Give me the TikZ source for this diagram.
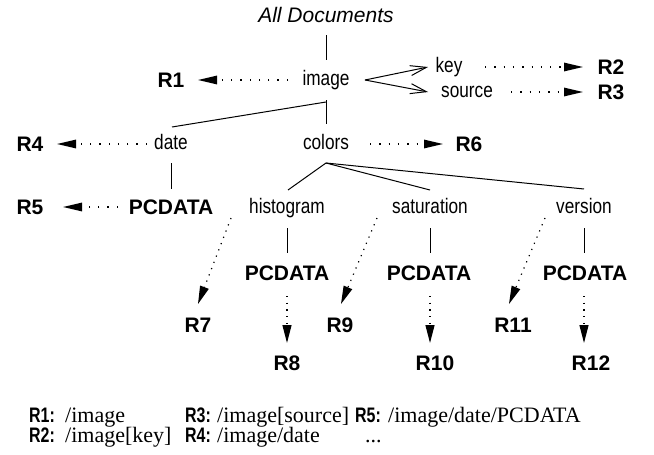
\documentclass[tikz,border=0pt]{standalone}
\usepackage{fontspec}
\setmainfont{Liberation Sans}
\newfontfamily\lblfont[FakeStretch=0.82]{Liberation Sans}
\newfontfamily\legfont[FakeStretch=0.76]{Liberation Sans}
\newfontfamily\legserif{Liberation Serif}
\usetikzlibrary{arrows.meta,calc}
\begin{document}
\begin{tikzpicture}[x=1pt,y=-1pt,
 lbl/.style={inner sep=0pt, font=\lblfont\fontsize{21}{25}\selectfont, text height=16pt, text depth=4.5pt},
 rlbl/.style={inner sep=0pt, font=\bfseries\fontsize{21}{25}\selectfont, text height=15pt, text depth=0pt},
 toplbl/.style={inner sep=0pt, font=\itshape\fontsize{21}{25}\selectfont, text height=16pt, text depth=0pt},
 legr/.style={inner sep=0pt, anchor=base west, font=\legfont\bfseries\fontsize{21}{25}\selectfont},
 legp/.style={inner sep=0pt, anchor=base west, font=\legserif\fontsize{22}{26}\selectfont},
 tree/.style={line width=1pt},
 ptr/.style={line width=1.3pt, dash pattern=on 1.3pt off 8pt, -{Triangle[length=19pt,width=8.5pt]}},
 vptr/.style={line width=1.2pt, dash pattern=on 1.2pt off 5.5pt, -{Triangle[length=18pt,width=9pt]}},
 openarr/.style={line width=1pt, -{Straight Barb[length=16pt,width=10pt]}}
]
\path[fill=white,use as bounding box] (0,0) rectangle (654,455);

% tree nodes
\node[toplbl] (alldoc) at (326,15) {All Documents};
\node[lbl] (image) at (326,80) {image};
\node[rlbl] (r1) at (171,80) {R1};
\node[lbl] (key) at (449,67) {key};
\node[lbl] (source) at (467,92) {source};
\node[rlbl] (r2) at (611,67) {R2};
\node[rlbl] (r3) at (611,92) {R3};
\node[lbl] (date) at (171,144) {date};
\node[lbl] (colors) at (326,144) {colors};
\node[rlbl] (r4) at (30,144) {R4};
\node[rlbl] (r6) at (469,144) {R6};
\node[rlbl] (pc0) at (171,207) {PCDATA};
\node[rlbl] (r5) at (30,207) {R5};
\node[lbl] (hist) at (287,208) {histogram};
\node[lbl] (sat) at (430,208) {saturation};
\node[lbl] (ver) at (584,208) {version};
\node[rlbl] (pc1) at (287,273) {PCDATA};
\node[rlbl] (pc2) at (429,273) {PCDATA};
\node[rlbl] (pc3) at (585,273) {PCDATA};
\node[rlbl] (r7) at (198,325) {R7};
\node[rlbl] (r9) at (340,325) {R9};
\node[rlbl] (r11) at (513,325) {R11};
\node[rlbl] (r8) at (287,363) {R8};
\node[rlbl] (r10) at (435,363) {R10};
\node[rlbl] (r12) at (591,363) {R12};

% connectors
\draw[tree] ($(alldoc)+(0,20)$) -- ($(image)+(0,-20)$);
\draw[ptr] ($(image)+(-38,0)$) -- ($(r1)+(27,0)$);
\draw[openarr] ($(image)+(39,0)$) -- ($(key)+(-21,0)$);
\draw[openarr] ($(image)+(39,0)$) -- ($(source)+(-39,0)$);
\draw[ptr] ($(key)+(36,0)$) -- ($(r2)+(-28,0)$);
\draw[ptr] ($(source)+(44,0)$) -- ($(r3)+(-28,0)$);
\draw[tree] ($(image)+(0,20)$) -- ($(colors)+(0,-20)$);
\draw[tree] ($(image)+(0,22)$) -- ($(date)+(1,-17)$);
\draw[ptr] ($(date)+(-24,0)$) -- ($(r4)+(27,0)$);
\draw[ptr] ($(colors)+(44,0)$) -- ($(r6)+(-26,0)$);
\draw[tree] ($(date)+(0,19)$) -- ($(pc0)+(0,-18)$);
\draw[ptr] ($(pc0)+(-53,0)$) -- ($(r5)+(33,0)$);
\draw[tree] ($(colors)+(0,19)$) -- ($(hist)+(1,-18)$);
\draw[tree] ($(colors)+(0,19)$) -- ($(sat)+(0,-18)$);
\draw[tree] ($(colors)+(0,19)$) -- ($(ver)+(0,-19)$);
\draw[tree] ($(hist)+(0,20)$) -- ($(pc1)+(0,-20)$);
\draw[tree] ($(sat)+(0,20)$) -- ($(pc2)+(1,-20)$);
\draw[tree] ($(ver)+(0,20)$) -- ($(pc3)+(-1,-20)$);
\draw[vptr] ($(pc1)+(0,23)$) -- ($(r8)+(0,-20)$);
\draw[vptr] ($(pc2)+(1,23)$) -- ($(r10)+(-5,-20)$);
\draw[vptr] ($(pc3)+(-1,23)$) -- ($(r12)+(-7,-20)$);
\draw[vptr] ($(hist)+(-56,10)$) -- ($(r7)+(0,-21)$);
\draw[vptr] ($(sat)+(-53,10)$) -- ($(r9)+(1,-21)$);
\draw[vptr] ($(ver)+(-39,10)$) -- ($(r11)+(-4,-21)$);

% legend
\node[legr] (l1) at (29,422) {R1:};
\node[legp] (l1p) at (65,422) {/image};
\node[legr] (l3) at (185,422) {R3:};
\node[legp] (l3p) at (217,422) {/image[source]};
\node[legr] (l5) at (355,422) {R5:};
\node[legp] (l5p) at (388,422) {/image/date/PCDATA};
\node[legr] (l2) at (29,442) {R2:};
\node[legp] (l2p) at (65,442) {/image[key]};
\node[legr] (l4) at (185,442) {R4:};
\node[legp] (l4p) at (217,442) {/image/date};
\node[legp] (ldots) at (365,442) {...};
\end{tikzpicture}
\end{document}
